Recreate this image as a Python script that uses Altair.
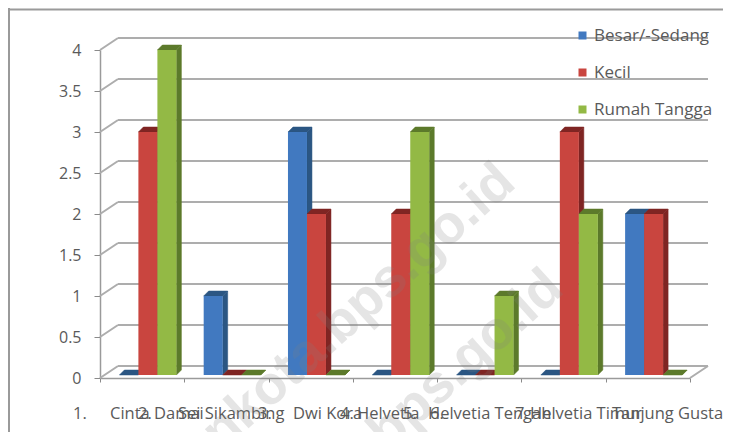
import altair as alt
import pandas as pd

# --- values ---
kelurahan = ["Cinta Damai", "Sei Sikambing", "Dwi Kora", "Helvetia",
             "Helvetia Tengah", "Helvetia Timur", "Tanjung Gusta"]
besar_sedang = [0, 1, 3, 0, 0, 0, 2]
kecil = [3, 0, 2, 2, 0, 3, 2]
rumah_tangga = [4, 0, 0, 3, 1, 2, 0]
series_names = ["Besar/-Sedang", "Kecil", "Rumah Tangga"]
series_values = [besar_sedang, kecil, rumah_tangga]
y_ticks = [0, 0.5, 1, 1.5, 2, 2.5, 3, 3.5, 4]
numbers = ["1.", "2.", "3.", "4.", "5.", "6.", "7."]
watermark = ["medankota.bps.go.id", "medankota.bps.go.id"]

# --- layout and style, separate from the values ---
W, H = 590, 328
PAD = dict(left=92, top=42, right=33, bottom=54)
FONT = "Open Sans"
TEXT = "#5a5a5a"
GRID = "#adadad"
front_colors = ["#4179c0", "#c9453f", "#93b945"]
dark_colors = ["#2b5683", "#7f2523", "#5c7a2b"]
DX, DY = 18, -12            # depth of the wall, px
px_x = 7 / W                # data units per px
px_y = 4 / H
bar_w, bar_start = 19 * px_x, 19.4 * px_x
side = 5 * px_x
cap = 5 * px_y
base = 3 * px_y
name_px = [10, 78, 193, 257, 328, 430, 512]
number_px = [-27, 38, 158, 240, 303, 330, 415]
label_row = 36
wm_px = [(407, 124), (455, 230)]

# --- derived tables ---
fronts, polys = [], []
for s, (name, vals) in enumerate(zip(series_names, series_values)):
    for i, v in enumerate(vals):
        x0 = i + bar_start + s * bar_w
        x1 = x0 + bar_w
        top = max(v, base)
        fronts.append(dict(series=name, s=s, x0=x0, x1=x1, top=top, base=base))
        pid = f"p{s}-{i}"
        # side face
        polys += [dict(s=s, poly=pid + "s", px=x1, a=top, b=base),
                  dict(s=s, poly=pid + "s", px=x1 + side, a=top + cap, b=base + cap)]
        # top face
        polys += [dict(s=s, poly=pid + "c", px=x0, a=top, b=top),
                  dict(s=s, poly=pid + "c", px=x0 + side, a=top + cap, b=top),
                  dict(s=s, poly=pid + "c", px=x1, a=top + cap, b=top),
                  dict(s=s, poly=pid + "c", px=x1 + side, a=top + cap, b=top + cap)]
fronts = pd.DataFrame(fronts)
polys = pd.DataFrame(polys)

xs = alt.Scale(domain=[0, 7], nice=False, zero=False)
ys = alt.Scale(domain=[0, 4], nice=False)
grid_df = pd.DataFrame({"v": y_ticks, "x0": 0, "x1": 7})

# back wall lines
back = alt.Chart(grid_df).mark_rule(color=GRID, strokeWidth=2, xOffset=DX, x2Offset=DX, yOffset=DY).encode(
    x=alt.X("x0:Q", scale=xs, axis=alt.Axis(
        values=list(range(8)), title=None, labels=False, grid=False, domainColor="#9a9a9a",
        domainWidth=1.5, tickColor="#8a8a8a", tickSize=4)),
    x2="x1:Q",
    y=alt.Y("v:Q", scale=ys, axis=alt.Axis(
        values=y_ticks, title=None, grid=False, labelFontSize=16, labelFont=FONT, labelColor=TEXT,
        labelPadding=13, tickSize=6, tickColor="#8a8a8a", domainColor="#9a9a9a", domainWidth=1.5,
        labelExpr="datum.value")),
)
# diagonals at the left wall and the floor's right edge
diag = alt.Chart(grid_df).mark_rule(color=GRID, strokeWidth=2, x2Offset=DX, y2Offset=DY).encode(
    x=alt.X("x0:Q", scale=xs), x2="x0:Q",
    y=alt.Y("v:Q", scale=ys), y2="v:Q")
floor_edge = alt.Chart(pd.DataFrame({"x": [7], "v": [0]})).mark_rule(color=GRID, strokeWidth=2, x2Offset=DX, y2Offset=DY).encode(
    x=alt.X("x:Q", scale=xs), x2="x:Q",
    y=alt.Y("v:Q", scale=ys), y2="v:Q")

layers = [back, diag, floor_edge]

for s, name in enumerate(series_names):
    layers.append(
        alt.Chart(polys[polys.s == s]).mark_area(fill=dark_colors[s], stroke=dark_colors[s], strokeWidth=0.5, opacity=1).encode(
            x=alt.X("px:Q", scale=xs), y=alt.Y("a:Q", scale=ys, stack=None), y2="b:Q",
            detail="poly:N"))
    layers.append(
        alt.Chart(fronts[fronts.s == s]).mark_bar().encode(
            x=alt.X("x0:Q", scale=xs), x2="x1:Q",
            y=alt.Y("top:Q", scale=ys), y2="base:Q",
            color=alt.Color("series:N", scale=alt.Scale(domain=series_names, range=front_colors),
                            legend=alt.Legend(
                                title=None, orient="none", legendX=474, legendY=-23,
                                symbolType="square", symbolSize=64, symbolStrokeWidth=0, labelFont=FONT,
                                labelFontSize=17, labelColor=TEXT, rowPadding=19, labelOffset=3,
                                labelLimit=200))))

labels = pd.DataFrame({"t": kelurahan + numbers, "px": name_px + number_px})
layers.append(
    alt.Chart(labels).mark_text(align="left", baseline="middle", font=FONT, fontSize=16.5, color=TEXT).encode(
        x=alt.X("px:Q", scale=None), y=alt.value(H + label_row), text="t:N"))

# frame (top and left)
layers.append(alt.Chart(pd.DataFrame({"a": [0]})).mark_rule(color="#9a9a9a", strokeWidth=2).encode(
    x=alt.value(-PAD["left"]), x2=alt.value(W + PAD["right"]), y=alt.value(-PAD["top"] + 1.5)))
layers.append(alt.Chart(pd.DataFrame({"a": [0]})).mark_rule(color="#9a9a9a", strokeWidth=2).encode(
    x=alt.value(-PAD["left"] + 1), y=alt.value(-PAD["top"]), y2=alt.value(H + PAD["bottom"])))

# watermark
wm = pd.DataFrame({"t": watermark, "px": [p[0] for p in wm_px], "py": [p[1] for p in wm_px]})
layers.append(alt.Chart(wm).mark_text(
    align="right", baseline="middle", angle=318, font="Liberation Sans", fontWeight="bold",
    fontSize=54, color="#808080", opacity=0.2).encode(
    x=alt.X("px:Q", scale=None), y=alt.Y("py:Q", scale=None), text="t:N"))

chart = alt.layer(*layers).resolve_scale(x="shared", y="shared").properties(
    width=W, height=H, padding=PAD, autosize=alt.AutoSizeParams(type="none"), background="white"
).configure_view(stroke=None)

chart.save("out.html", embed_options={"renderer": "svg", "actions": False})
